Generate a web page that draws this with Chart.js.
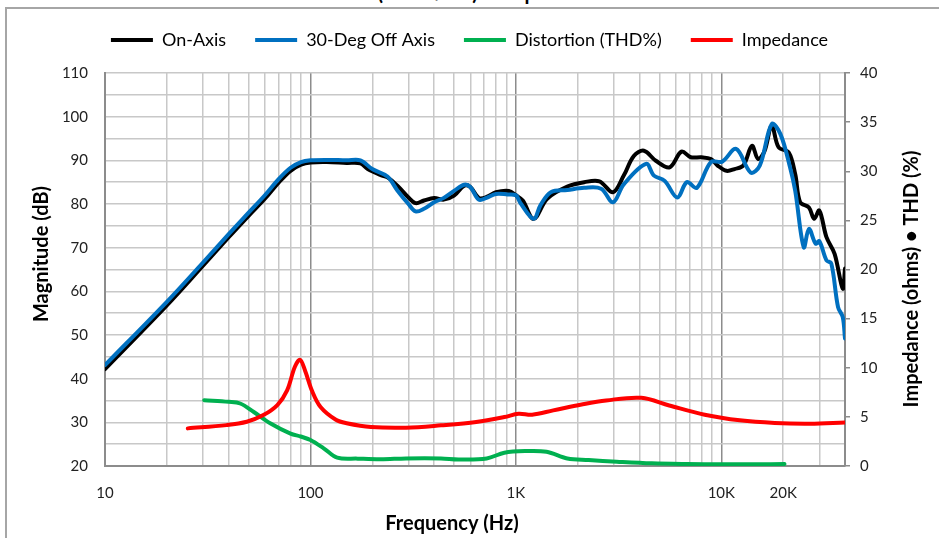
<!DOCTYPE html>
<html>
<head>
<meta charset="utf-8">
<script src="https://cdn.jsdelivr.net/npm/chart.js@4"></script>
<style>
  html, body { margin: 0; padding: 0; background: #fff; overflow: hidden; }
  #wrap { position: relative; width: 939px; height: 538px; overflow: hidden; }
  #frame { position: absolute; left: 5px; top: 7px; width: 1000px; height: 600px; border: 2px solid #a6a6a6; }
  #title { position: absolute; left: 0; top: -20px; width: 939px; text-align: center; font: bold 20px Lato, sans-serif; color: #000; }
  canvas { position: absolute; left: 0; top: 0; }
</style>
</head>
<body>
<div id="wrap">
  <div id="frame"></div>
  <div id="title">SPL (2.83V/1m) &amp; Impedance</div>
  <canvas id="chart" width="939" height="538"></canvas>
</div>
<script>
/* Data */
var onAxisFreq = [10,20,30,40,50,60,70,80,90,100,120,150,175,190,220,237,265,300,325,357,400,446,500,560,600,660,720,800,925,1000,1080,1220,1420,1780,2150,2550,2970,3350,3750,4200,4800,5600,6400,7100,8000,8900,9600,10600,11600,12800,14100,15100,16200,17600,19000,21300,22900,24200,26700,28300,30000,32500,35600,39000,40000];
var onAxisDb = [42.2,56.8,65.9,72.4,77.3,81.2,84.9,87.6,89.0,89.5,89.6,89.4,89.3,88.0,86.6,86.1,84.2,81.5,80.2,80.8,81.4,81.0,81.9,84.2,83.9,81.4,81.6,82.7,83.0,82.0,80.8,76.6,81.2,84.0,85.0,85.2,82.7,86.5,91.0,92.2,89.9,88.4,92.0,90.7,90.7,90.3,88.8,87.6,88.0,88.8,93.3,90.3,92.0,97.9,93.0,91.8,86.8,80.4,79.2,76.6,78.5,72.4,68.6,60.6,65.2];

var offAxisFreq = [10,20,30,40,50,60,70,80,90,100,120,150,175,200,237,265,300,325,357,400,446,500,560,600,660,720,800,910,1000,1050,1220,1320,1480,1780,2150,2600,2970,3350,4300,4700,5300,6100,6800,7600,8900,10100,11800,13900,15400,17600,19400,21600,22900,25200,26700,28800,30000,32500,34300,37000,39000,40000];
var offAxisDb = [43.1,57.6,66.6,73.1,78.0,82.0,85.7,88.3,89.6,90.0,90.1,90.0,90.0,88.0,86.3,83.1,80.0,78.3,78.9,80.4,81.4,83.0,84.4,83.9,81.0,81.4,82.3,82.2,82.0,80.3,76.6,79.8,82.7,83.2,83.7,83.5,80.4,84.5,89.2,86.5,85.3,81.5,85.0,83.7,89.6,89.7,92.6,87.2,88.8,98.3,96.0,88.4,83.0,70.1,74.3,70.9,71.5,67.1,66.4,56.4,54.1,49.2];

var thdFreq = [30.4,40,45.5,53,64,80,89.6,100,116,135,170,220,292,432,526,721,879,1110,1410,1780,2260,3100,4590,6800,10000,14900,20300];
var thdPct = [6.7,6.53,6.36,5.5,4.33,3.3,3.0,2.64,1.8,0.85,0.75,0.68,0.77,0.77,0.67,0.77,1.35,1.52,1.45,0.77,0.61,0.44,0.27,0.2,0.17,0.17,0.2];

var impFreq = [25.3,39,49,59,69,77,84,89,94,102,112,133,150,197,292,432,641,879,1030,1200,1520,2090,2750,4080,5580,8300,12300,18200,27000,40000];
var impOhms = [3.83,4.16,4.5,5.18,6.2,7.7,10.1,10.8,9.75,7.6,6.0,4.7,4.35,3.97,3.9,4.14,4.48,4.98,5.32,5.22,5.66,6.26,6.67,6.94,6.16,5.22,4.65,4.38,4.31,4.44];

var seriesNames = ["On-Axis", "30-Deg Off Axis", "Distortion (THD%)", "Impedance"];
var freqTickLabels = { 10: "10", 100: "100", 1000: "1K", 10000: "10K", 20000: "20K" };
var axisTitles = { x: "Frequency (Hz)", y: "Magnitude (dB)", y2: "Impedance (ohms) \u2022 THD (%)" };

function pts(xs, ys) {
	return xs.map(function (x, i) { return { x: x, y: ys[i] }; });
}

var fontFam = "Lato, 'Open Sans', sans-serif";
Chart.defaults.font.family = fontFam;
Chart.defaults.color = "#222";

/* taller legend box so the plot starts lower */
var legendSpace = {
	id: "legendSpace",
	beforeInit: function (chart) {
		var fit = chart.legend.fit;
		chart.legend.fit = function () {
			fit.bind(chart.legend)();
			this.height += 14;
		};
	}
};

/* axis titles placed like the original */
var axisTitlePlugin = {
	id: "axisTitlePlugin",
	afterDraw: function (chart) {
		var c = chart.ctx;
		c.save();
		c.fillStyle = "#000";
		c.font = "bold 20px " + fontFam;
		c.textAlign = "center";
		c.textBaseline = "middle";
		c.fillText(axisTitles.x, 452, 524);
		c.translate(42, 254);
		c.rotate(-Math.PI / 2);
		c.fillText(axisTitles.y, 0, 0);
		c.restore();
		c.save();
		c.fillStyle = "#000";
		c.font = "bold 20px " + fontFam;
		c.textAlign = "center";
		c.textBaseline = "middle";
		c.translate(912, 279);
		c.rotate(-Math.PI / 2);
		c.fillText(axisTitles.y2, 0, 0);
		c.restore();
	}
};

var ctx = document.getElementById("chart");
var chart = new Chart(ctx, {
	type: "line",
	data: {
		datasets: [
			{ label: seriesNames[0], data: pts(onAxisFreq, onAxisDb), borderColor: "#000000", backgroundColor: "#000000", borderWidth: 4, yAxisID: "y", order: 1 },
			{ label: seriesNames[1], data: pts(offAxisFreq, offAxisDb), borderColor: "#0070C0", backgroundColor: "#0070C0", borderWidth: 4, yAxisID: "y", order: 0 },
			{ label: seriesNames[2], data: pts(thdFreq, thdPct), borderColor: "#00B050", backgroundColor: "#00B050", borderWidth: 4, yAxisID: "y2", order: 3 },
			{ label: seriesNames[3], data: pts(impFreq, impOhms), borderColor: "#FF0000", backgroundColor: "#FF0000", borderWidth: 4, yAxisID: "y2", order: 2 }
		]
	},
	plugins: [legendSpace, axisTitlePlugin],
	options: {
		responsive: false,
		animation: false,
		devicePixelRatio: 1,
		layout: { padding: { top: 2, left: 0, right: 0, bottom: 0 } },
		elements: {
			point: { radius: 0 },
			line: { borderWidth: 4, tension: 0.35, borderCapStyle: "round", borderJoinStyle: "round" }
		},
		plugins: {
			tooltip: { enabled: false },
			legend: {
				position: "top",
				labels: {
					usePointStyle: true,
					pointStyle: "line",
					pointStyleWidth: 42,
					padding: 29,
					font: { size: 18, family: fontFam },
					color: "#000",
					sort: function (a, b) { return a.datasetIndex - b.datasetIndex; }
				}
			}
		},
		scales: {
			x: {
				type: "logarithmic",
				min: 10,
				max: 40000,
				afterBuildTicks: function (scale) {
					var t = [];
					[10, 100, 1000, 10000].forEach(function (d) {
						for (var m = 1; m <= 9; m++) {
							if (d * m <= 40000) t.push({ value: d * m });
						}
					});
					scale.ticks = t;
				},
				afterFit: function (scale) { scale.height = 72; },
				ticks: {
					autoSkip: false,
					maxRotation: 0,
					padding: 18,
					font: { size: 15 },
					callback: function (v) { return freqTickLabels[v] || ""; }
				},
				grid: {
					drawTicks: false,
					lineWidth: 1.5,
					color: function (c) {
						var v = c.tick ? c.tick.value : 0;
						return (v === 100 || v === 1000 || v === 10000) ? "#8c8c8c" : "#c8c8c8";
					}
				},
				border: { color: "#8c8c8c", width: 2 }
			},
			y: {
				position: "left",
				min: 20,
				max: 110,
				afterFit: function (scale) { scale.width = 105; },
				ticks: {
					stepSize: 5,
					padding: 17,
					font: { size: 15 },
					callback: function (v) { return v % 10 === 0 ? v : ""; }
				},
				grid: { drawTicks: false, color: "#c8c8c8", lineWidth: 1.5 },
				border: { color: "#8c8c8c", width: 2 }
			},
			y2: {
				position: "right",
				min: 0,
				max: 40,
				afterFit: function (scale) { scale.width = 94; },
				ticks: { stepSize: 5, padding: 10, font: { size: 15 } },
				grid: { drawOnChartArea: false, drawTicks: true, tickLength: 5, color: "#8c8c8c", lineWidth: 1.5 },
				border: { color: "#8c8c8c", width: 2 }
			}
		}
	}
});
</script>
</body>
</html>
